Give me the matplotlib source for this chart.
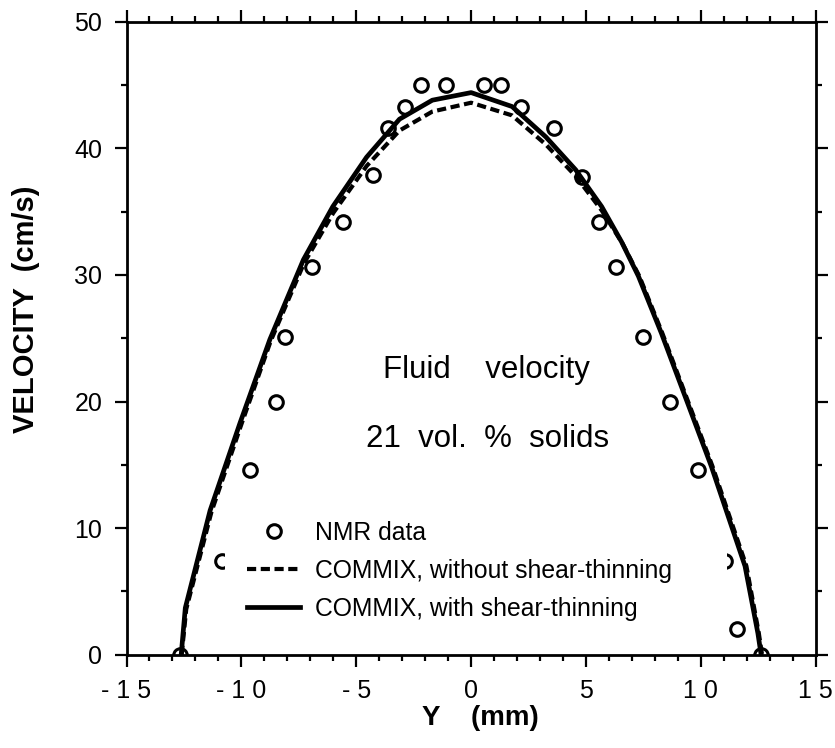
import matplotlib
matplotlib.use("Agg")
import matplotlib.pyplot as plt
from matplotlib.ticker import MultipleLocator, FixedLocator

plt.rcParams['font.family'] = ['Liberation Sans', 'DejaVu Sans']

# NMR data
nmr_y = [-12.66, -10.84, -9.62, -8.50, -8.10, -6.94, -5.59, -4.29, -3.63, -2.86, -2.18, -1.10,
         0.56, 1.29, 2.15, 3.60, 4.81, 5.55, 6.29, 7.50, 8.67, 9.88, 11.05, 11.57, 12.60]
nmr_v = [0.0, 7.4, 14.6, 20.0, 25.1, 30.6, 34.2, 37.9, 41.6, 43.3, 45.0, 45.0,
         45.0, 45.0, 43.3, 41.6, 37.7, 34.2, 30.6, 25.1, 20.0, 14.6, 7.4, 2.0, 0.0]

# COMMIX with shear-thinning (solid)
st_y = [-12.62, -12.44, -11.36, -10.06, -8.76, -7.30, -6.02, -4.55, -3.12, -1.69, 0.0,
        1.78, 3.25, 4.55, 5.68, 6.55, 7.28, 8.28, 10.45, 11.92, 12.48, 12.62]
st_v = [0.0, 3.7, 11.4, 18.3, 24.9, 31.2, 35.4, 39.3, 42.3, 43.8, 44.4,
        43.3, 40.9, 38.3, 35.4, 32.6, 29.9, 25.4, 14.9, 7.0, 1.7, 0.0]

# COMMIX without shear-thinning (dashed)
nst_y = [-12.60, -12.40, -11.30, -10.00, -8.72, -7.28, -6.00, -4.55, -3.12, -1.69, 0.0,
         1.78, 3.25, 4.55, 5.68, 6.58, 7.32, 8.32, 10.50, 11.98, 12.52, 12.66]
nst_v = [0.0, 3.6, 11.3, 18.2, 24.8, 30.9, 34.9, 38.6, 41.4, 42.9, 43.6,
         42.6, 40.3, 37.8, 35.1, 32.5, 29.9, 25.4, 14.9, 7.0, 1.7, 0.0]

x_ticks = [-15, -10, -5, 0, 5, 10, 15]
x_ticklabels = ["- 1 5", "- 1 0", "- 5", "0", "5", "1 0", "1 5"]
y_ticks = [0, 10, 20, 30, 40, 50]
y_ticklabels = ["0", "10", "20", "30", "40", "50"]

fig = plt.figure(figsize=(8.35, 7.48), dpi=100)
ax = fig.add_axes([0.1515, 0.1247, 0.8255, 0.8463])

ax.plot(nst_y, nst_v, color='black', lw=3.0, linestyle=(0, (2.2, 1.1)),
        label='COMMIX, without shear-thinning', zorder=6, solid_capstyle='butt')
ax.plot(st_y, st_v, color='black', lw=3.4, linestyle='-',
        label='COMMIX, with shear-thinning', zorder=6)
ax.plot(nmr_y, nmr_v, linestyle='none', marker='o', ms=9.8, mew=2.2,
        mfc='none', mec='black', label='NMR data', zorder=3)

ax.set_xlim(-15, 15)
ax.set_ylim(0, 50)
ax.xaxis.set_major_locator(FixedLocator(x_ticks))
ax.set_xticklabels(x_ticklabels)
ax.yaxis.set_major_locator(FixedLocator(y_ticks))
ax.set_yticklabels(y_ticklabels)
ax.xaxis.set_minor_locator(MultipleLocator(1))
ax.yaxis.set_minor_locator(MultipleLocator(5))

for s in ax.spines.values():
    s.set_linewidth(2.0)
ax.tick_params(which='both', direction='out', top=True, right=True,
               labeltop=False, labelright=False, width=1.6)
ax.tick_params(which='major', length=8.5, labelsize=18, pad=9)
ax.tick_params(which='minor', length=4.0)

ax.set_xlabel("Y    (mm)", fontsize=20, fontweight='bold', va='center')
ax.xaxis.set_label_coords(0.514, -0.0995)
ax.set_ylabel("VELOCITY  (cm/s)", fontsize=21, fontweight='bold', va='center')
ax.yaxis.set_label_coords(-0.146, 0.545)

ax.text(0.65, 22.5, "Fluid    velocity", fontsize=22.5, ha='center', va='center')
ax.text(0.7, 17.0, "21  vol.  %  solids", fontsize=22.5, ha='center', va='center')

handles, labels = ax.get_legend_handles_labels()
order = [2, 0, 1]
leg = ax.legend([handles[i] for i in order], [labels[i] for i in order],
                loc='upper left', bbox_to_anchor=(0.1429, 0.2465, 0.728, 0),
                mode='expand', borderaxespad=0, frameon=True, fancybox=False,
                fontsize=17.8, handlelength=2.15, handletextpad=0.6,
                labelspacing=0.57, borderpad=0.9)
leg.get_frame().set_edgecolor('none')
leg.get_frame().set_facecolor('white')
leg.get_frame().set_alpha(1.0)
leg.set_zorder(5)

fig.savefig("out.png", dpi=100)
